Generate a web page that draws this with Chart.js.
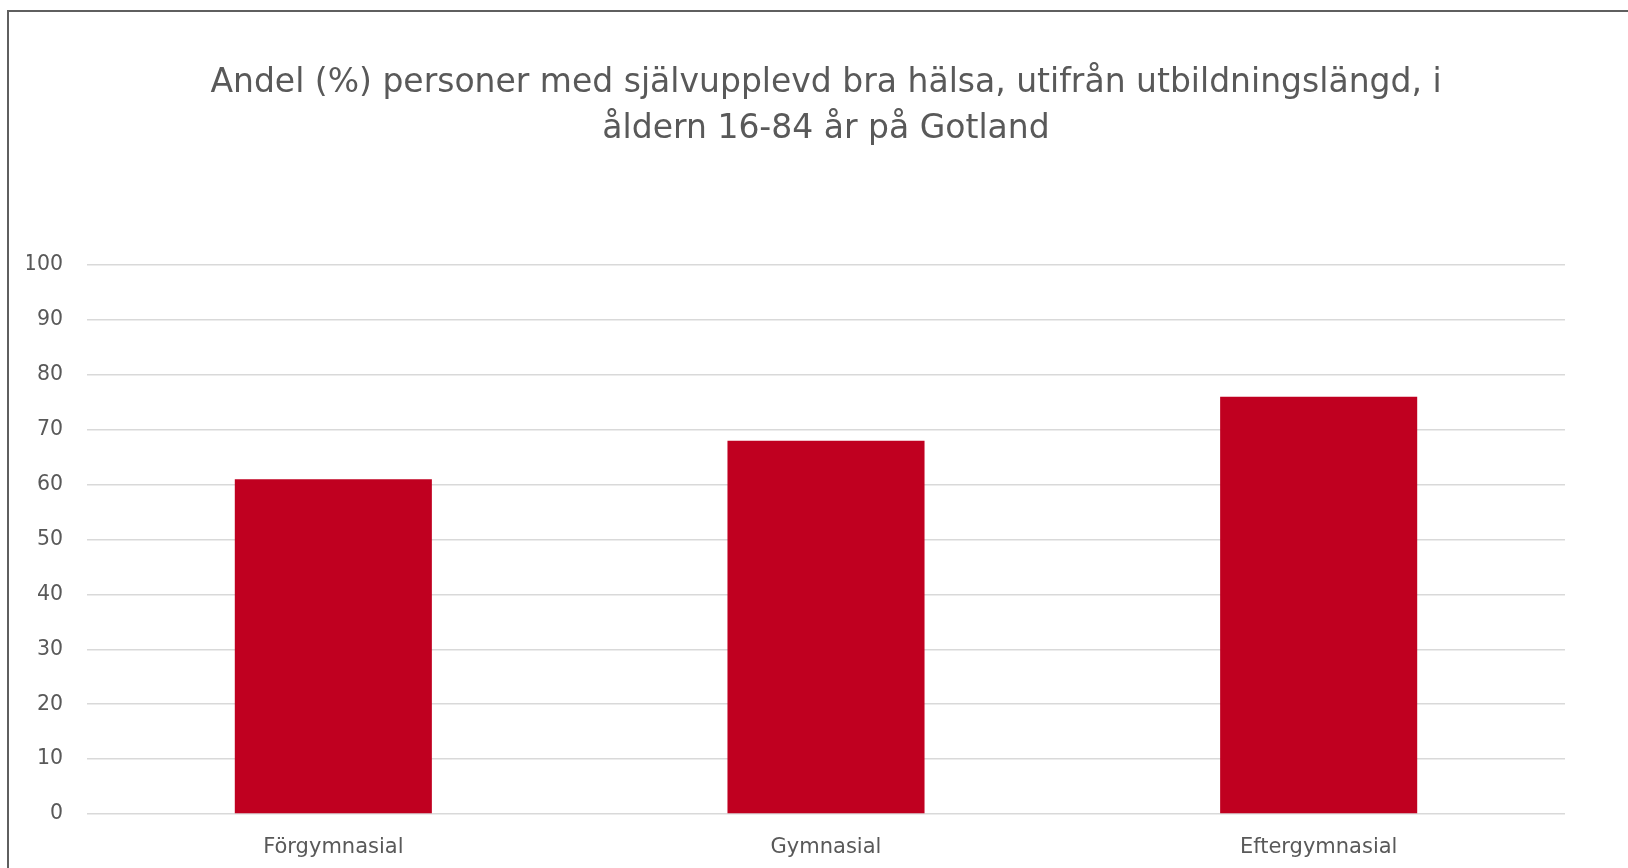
<!DOCTYPE html>
<html>
<head>
<meta charset="utf-8">
<script src="https://cdn.jsdelivr.net/npm/chart.js@4"></script>
<style>
  html, body { margin: 0; padding: 0; background: #fff; overflow: hidden; }
  #wrap { position: relative; width: 1628px; height: 868px; }
  #frame { position: absolute; left: 7px; top: 10px; width: 1700px; height: 900px;
           border: 2px solid #5f5f5f; pointer-events: none; }
</style>
</head>
<body>
<div id="wrap">
  <canvas id="myChart" width="1628" height="868"></canvas>
  <div id="frame"></div>
</div>
<script>
const categories = ["Förgymnasial", "Gymnasial", "Eftergymnasial"];
const values = [61, 68, 76];
const yMin = 0, yMax = 100, yStep = 10;
const titleLines = ["Andel (%) personer med självupplevd bra hälsa, utifrån utbildningslängd, i", "åldern 16-84 år på Gotland"];

new Chart("myChart", {
  type: "bar",
  data: {
    labels: categories,
    datasets: [
      {
        data: values,
        backgroundColor: "#c00020",
        borderWidth: 0,
        categoryPercentage: 1,
        barPercentage: 0.4,
      },
    ],
  },
  options: {
    responsive: false,
    animation: false,
    layout: { padding: { left: 27, right: 63, top: 0, bottom: 0 } },
    plugins: {
      legend: { display: false },
      tooltip: { enabled: false },
      title: {
        display: true,
        fullSize: false, // centre over the plot area, not the whole canvas
        text: titleLines,
        color: "#595959",
        font: { family: "DejaVu Sans", size: 33, weight: "normal", lineHeight: 1.38 },
        padding: { top: 61, bottom: 113 },
      },
    },
    scales: {
      x: {
        grid: { display: false, drawTicks: false },
        border: { display: false },
        ticks: { color: "#595959", font: { family: "DejaVu Sans", size: 21 }, padding: 21 },
        afterFit: (s) => { s.height = 54; },
      },
      y: {
        min: yMin,
        max: yMax,
        grid: { color: "#d9d9d9", lineWidth: 1.5, drawTicks: false },
        border: { display: false },
        ticks: { stepSize: yStep, color: "#595959", font: { family: "DejaVu Sans", size: 20.5 }, padding: 24 },
        afterFit: (s) => { s.width = 60; },
      },
    },
  },
});
</script>
</body>
</html>
